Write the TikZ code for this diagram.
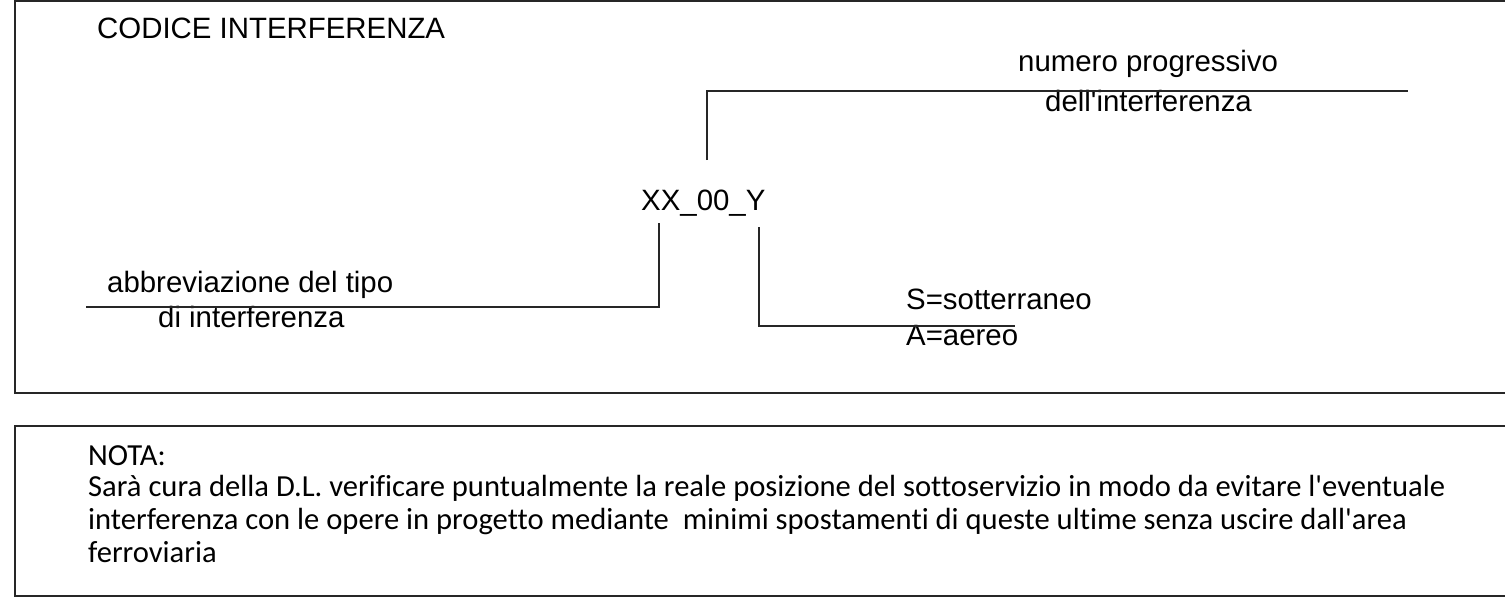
\documentclass[tikz,border=0pt]{standalone}
\usepackage{fontspec}
\setmainfont{Liberation Sans}
\newfontfamily\notafont[Ligatures={NoCommon}]{Carlito}
\begin{document}
\begin{tikzpicture}[x=1pt,y=-1pt,
  lbl/.style={anchor=base west,inner sep=0pt,font=\fontsize{29.4}{34}\selectfont},
  nota/.style={anchor=base west,inner sep=0pt,font=\notafont\fontsize{30.6}{34}\selectfont},
  frame/.style={line width=1.8pt,draw=black!85},
  conn/.style={line width=1.5pt,draw=black!85}]
\useasboundingbox (0,0) rectangle (1505,611);
\clip (0,0) rectangle (1505,611);
% frames
\draw[frame] (1520,1) -| (15,393) -- (1520,393);
\draw[frame] (1520,426) -| (15,596) -- (1520,596);
% texts
\node[lbl] (title) at (97,38) {CODICE INTERFERENZA};
\node[lbl] (code) at (641,210) {XX\_00\_Y};
\node[lbl] (num1) at (1018,71) {numero progressivo};
\node[lbl] (num2) at (1045,111) {dell\textquotesingle interferenza};
\node[lbl] (abb1) at (107,292) {abbreviazione del tipo};
\node[lbl] (abb2) at (158,327) {di interferenza};
\node[lbl] (sot) at (906,309) {S=sotterraneo};
\node[lbl] (aer) at (906,345) {A=aereo};
% connectors
\coordinate (t1) at (707,160);
\coordinate (t2) at (1408,91);
\coordinate (l1) at (659,223);
\coordinate (l2) at (86,307);
\coordinate (r1) at (759,227);
\coordinate (r2) at (1015,326);
\draw[conn] (t1) |- (t2);
\draw[conn] (l1) |- (l2);
\draw[conn] (r1) |- (r2);
% nota
\node[nota] (n0) at (88,465) {NOTA:};
\node[nota] (n1) at (88,496) {Sarà cura della D.L. verificare puntualmente la reale posizione del sottoservizio in modo da evitare l'eventuale};
\node[nota] (n2) at (88,529) {interferenza con le opere in progetto mediante~ minimi spostamenti di queste ultime senza uscire dall'area};
\node[nota] (n3) at (88,562) {ferroviaria};
\end{tikzpicture}
\end{document}
